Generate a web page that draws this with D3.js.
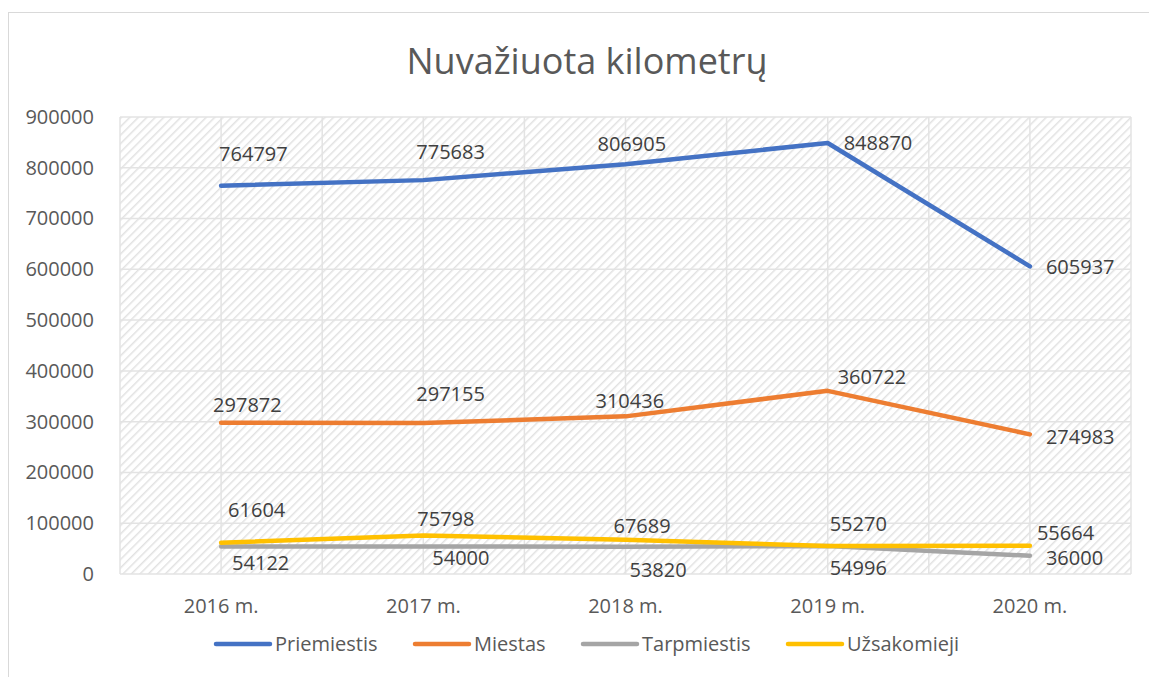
<!DOCTYPE html>
<html lang="lt">
<head>
    <meta charset="UTF-8">
    <script src="https://cdn.jsdelivr.net/npm/d3@7"></script>
    <title>Nuvažiuota kilometrų</title>
    <style>
        body { margin: 0; background: #fff; }
        text { font-family: 'Open Sans', 'Noto Sans', sans-serif; }
    </style>
</head>
<body>
<div id="chart"></div>
<script>
    // Chart data
    const years = ["2016 m.", "2017 m.", "2018 m.", "2019 m.", "2020 m."];
    const seriesNames = ["Priemiestis", "Miestas", "Tarpmiestis", "Užsakomieji"];
    const priemiestis = [764797, 775683, 806905, 848870, 605937];
    const miestas = [297872, 297155, 310436, 360722, 274983];
    const tarpmiestis = [54122, 54000, 53820, 54996, 36000];
    const uzsakomieji = [61604, 75798, 67689, 55270, 55664];
    const yTicks = [0, 100000, 200000, 300000, 400000, 500000, 600000, 700000, 800000, 900000];

    const colors = ["#4472C4", "#ED7D31", "#A5A5A5", "#FFC000"];
    const seriesValues = [priemiestis, miestas, tarpmiestis, uzsakomieji];

    // label nudges (dx, dy from point), roughly as placed in the original
    const labelNudge = [
        [[-2, -32], [-7, -28], [-28, -20], [16, 0], [16, 1]],
        [[-8, -18], [-7, -29], [-30, -15], [10, -14], [16, 3]],
        [[11, 16], [9, 11], [4, 23], [2, 22], [16, 2]],
        [[7, -33], [-6, -17], [-12, -14], [2, -22], [7, -13]]
    ];

    const W = 1149, H = 677;
    const margin = {left: 120, right: 18, top: 117, bottom: 103};

    const svg = d3.select("#chart").append("svg")
        .attr("width", W)
        .attr("height", H);

    // hatch pattern for the plot area
    const pat = svg.append("defs").append("pattern")
        .attr("id", "hatch")
        .attr("patternUnits", "userSpaceOnUse")
        .attr("width", 6).attr("height", 6)
        .attr("patternTransform", "rotate(45)");
    pat.append("rect").attr("width", 6).attr("height", 6).attr("fill", "#fff");
    pat.append("line")
        .attr("x1", 0).attr("y1", 0).attr("x2", 0).attr("y2", 6)
        .attr("stroke", "#e2e2e2").attr("stroke-width", 3);

    // chart border
    svg.append("rect")
        .attr("x", 8.5).attr("y", 12.5)
        .attr("width", W).attr("height", H)
        .attr("fill", "none")
        .attr("stroke", "#d9d9d9");

    svg.append("text")
        .attr("x", 587).attr("y", 74)
        .attr("text-anchor", "middle")
        .attr("font-size", 36)
        .attr("fill", "#595959")
        .text("Nuvažiuota kilometrų");

    const x = d3.scaleBand()
        .domain(years)
        .range([margin.left, W - margin.right]);

    const y = d3.scaleLinear()
        .domain([0, 900000])
        .range([H - margin.bottom, margin.top]);

    const cx = d => x(d) + x.bandwidth() / 2;

    svg.append("rect")
        .attr("x", margin.left).attr("y", margin.top)
        .attr("width", W - margin.right - margin.left)
        .attr("height", H - margin.bottom - margin.top)
        .attr("fill", "url(#hatch)");

    // gridlines
    const grid = svg.append("g").attr("stroke", "#e3e3e3").attr("stroke-width", 1.5);
    grid.selectAll(".h").data(yTicks).enter().append("line")
        .attr("x1", margin.left).attr("x2", W - margin.right)
        .attr("y1", d => y(d)).attr("y2", d => y(d));
    const vLines = [];
    years.forEach(d => { vLines.push(x(d)); vLines.push(cx(d)); });
    vLines.push(W - margin.right);
    grid.selectAll(".v").data(vLines).enter().append("line")
        .attr("x1", d => d).attr("x2", d => d)
        .attr("y1", margin.top).attr("y2", H - margin.bottom);

    // axes
    const yAxis = svg.append("g")
        .attr("transform", `translate(${margin.left - 23},0)`)
        .call(d3.axisLeft(y).tickValues(yTicks).tickSize(0).tickFormat(d3.format("d")));
    yAxis.select(".domain").remove();
    yAxis.selectAll("text")
        .attr("font-size", 20).attr("fill", "#595959")
        .style("font-family", "'Open Sans', sans-serif");

    const xAxis = svg.append("g")
        .attr("transform", `translate(0,${H - margin.bottom + 22})`)
        .call(d3.axisBottom(x).tickSize(0));
    xAxis.select(".domain").remove();
    xAxis.selectAll("text")
        .attr("font-size", 20).attr("fill", "#595959")
        .style("font-family", "'Open Sans', sans-serif");

    // lines + labels
    const line = d3.line()
        .x((d, i) => cx(years[i]))
        .y(d => y(d));

    seriesValues.forEach((vals, s) => {
        svg.append("path")
            .datum(vals)
            .attr("d", line)
            .attr("fill", "none")
            .attr("stroke", colors[s])
            .attr("stroke-width", 4.5)
            .attr("stroke-linejoin", "round")
            .attr("stroke-linecap", "round");
    });

    seriesValues.forEach((vals, s) => {
        svg.append("g").selectAll("text")
            .data(vals).enter().append("text")
            .attr("x", (d, i) => cx(years[i]) + labelNudge[s][i][0])
            .attr("y", (d, i) => y(d) + labelNudge[s][i][1])
            .attr("dy", "0.35em")
            .attr("font-size", 20)
            .attr("fill", "#404040")
            .text(d => d);
    });

    // legend
    const legendX = [216, 415, 583, 788];
    const legend = svg.append("g").attr("transform", "translate(0,644)");
    seriesNames.forEach((name, s) => {
        legend.append("line")
            .attr("x1", legendX[s]).attr("x2", legendX[s] + 54)
            .attr("stroke", colors[s])
            .attr("stroke-width", 4.5)
            .attr("stroke-linecap", "round");
        legend.append("text")
            .attr("x", legendX[s] + 59)
            .attr("dy", "0.35em")
            .attr("font-size", 20)
            .attr("fill", "#595959")
            .text(name);
    });
</script>
</body>
</html>
